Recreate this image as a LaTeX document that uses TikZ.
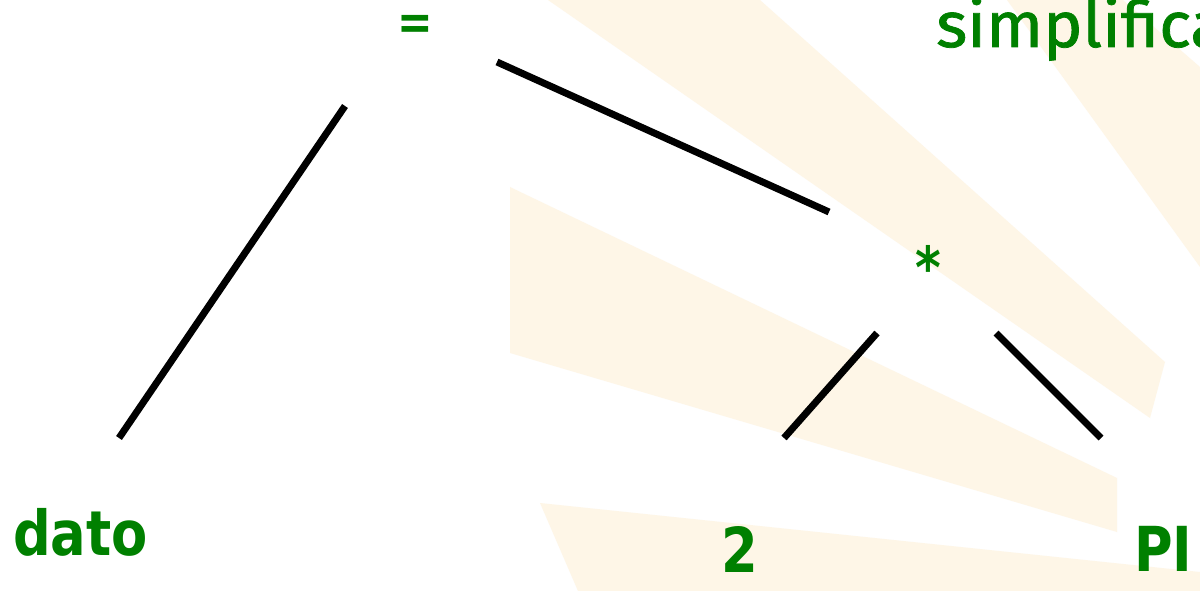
\documentclass[tikz,border=0pt]{standalone}
\usepackage{fontspec}
\setmainfont{DejaVu Sans}
\newfontfamily\tahfont[FakeStretch=0.85]{DejaVu Sans}
\newfontfamily\firafont[FakeStretch=1.04,FakeBold=1.2]{Fira Sans}
\definecolor{tgreen}{RGB}{0,128,0}
\definecolor{raycol}{RGB}{254,246,231}
\begin{document}
\begin{tikzpicture}[x=1pt,y=-1pt,
  lbl/.style={text=tgreen, inner sep=0pt, font=\tahfont\bfseries\fontsize{62}{62}\selectfont},
  edge/.style={line width=7pt, black},
  rayshape/.style={fill=raycol, draw=none}]
\useasboundingbox (0,0) rectangle (1200,591);
\fill[white] (0,0) rectangle (1200,591);
% faint background rays
\fill[rayshape] (548,0) -- (760,0) -- (1165,362) -- (1150,418) -- cycle;
\fill[rayshape] (1007,0) -- (1123,0) -- (1200,67) -- (1200,267) -- cycle;
\fill[rayshape] (510,187) -- (1117,478) -- (1117,532) -- (510,353) -- cycle;
\fill[rayshape] (540,503) -- (1200,572) -- (1200,591) -- (578,591) -- cycle;
% labels
\node[lbl, font=\tahfont\bfseries\fontsize{50}{50}\selectfont, anchor=base] (eq) at (415,40) {=};
\node[text=tgreen, inner sep=0pt, anchor=base west, font=\firafont\fontsize{64}{64}\selectfont] (simp) at (936,47) {simplifica};
\node[lbl, font=\tahfont\bfseries\fontsize{58}{58}\selectfont, anchor=base] (mul) at (928,288) {*};
\node[lbl, anchor=base west] (dato) at (13,555) {dato};
\node[lbl, anchor=base] (two) at (740,572) {2};
\node[lbl, anchor=base west] (pi) at (1134,571) {PI};
% connector ends
\coordinate (eqL) at (345,106);
\coordinate (datoT) at (119,438);
\coordinate (eqR) at (497,62);
\coordinate (mulT) at (829,212);
\coordinate (mulL) at (877,333);
\coordinate (twoT) at (784,438);
\coordinate (mulR) at (996,333);
\coordinate (piT) at (1101,438);
\draw[edge] (eqL) -- (datoT);
\draw[edge] (eqR) -- (mulT);
\draw[edge] (mulL) -- (twoT);
\draw[edge] (mulR) -- (piT);
\end{tikzpicture}
\end{document}
